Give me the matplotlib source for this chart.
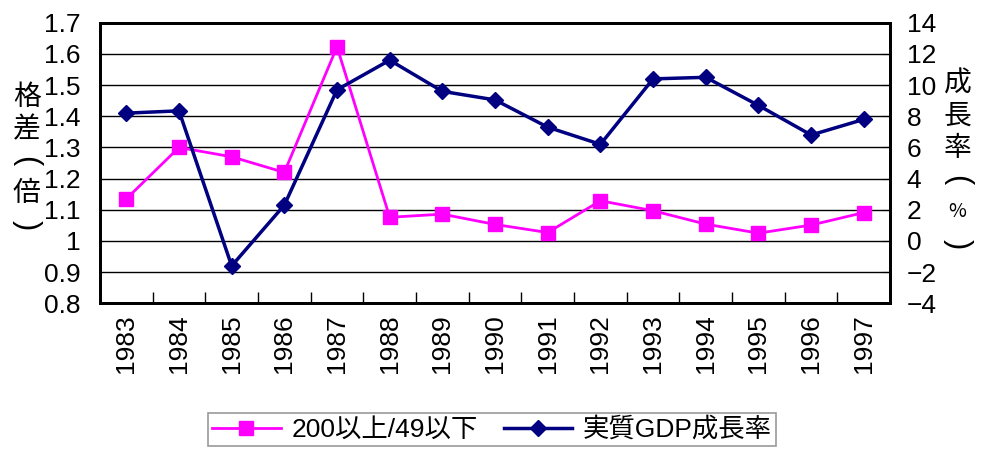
import matplotlib.pyplot as plt
from matplotlib.ticker import FixedLocator, NullFormatter

plt.rcParams['font.family'] = ['Liberation Sans', 'Noto Sans CJK JP']

years = ["1983", "1984", "1985", "1986", "1987", "1988", "1989", "1990",
         "1991", "1992", "1993", "1994", "1995", "1996", "1997"]
gap_ratio = [1.135, 1.30, 1.27, 1.22, 1.623, 1.076, 1.086, 1.053,
             1.027, 1.129, 1.097, 1.054, 1.025, 1.051, 1.091]
gdp_growth = [8.2, 8.35, -1.6, 2.3, 9.7, 11.6, 9.6, 9.05,
              7.3, 6.2, 10.4, 10.5, 8.7, 6.8, 7.8]
left_ticks = [0.8, 0.9, 1.0, 1.1, 1.2, 1.3, 1.4, 1.5, 1.6, 1.7]
left_labels = ["0.8", "0.9", "1", "1.1", "1.2", "1.3", "1.4", "1.5", "1.6", "1.7"]
right_ticks = [-4, -2, 0, 2, 4, 6, 8, 10, 12, 14]
right_labels = ["\u22124", "\u22122", "0", "2", "4", "6", "8", "10", "12", "14"]
left_title = ["格", "差", "(", "倍", ")"]
right_title = ["成", "長", "率", "(", "%", ")"]

fig = plt.figure(figsize=(9.84, 4.5), dpi=100)
ax = fig.add_axes([0.1016, 0.326, 0.803, 0.6234])
ax2 = ax.twinx()

x = list(range(len(years)))
l1, = ax.plot(x, gap_ratio, color="#FF00FF", lw=2, marker="s", ms=10,
              label="200以上/49以下")
l2, = ax2.plot(x, gdp_growth, color="#000080", lw=2.5, marker="D", ms=8,
               label="実質GDP成長率")

ax.set_xlim(-0.5, len(years) - 0.5)
ax.set_ylim(0.8, 1.7)
ax2.set_ylim(-4, 14)
ax.set_yticks(left_ticks)
ax.set_yticklabels(left_labels, fontsize=19)
ax2.set_yticks(right_ticks)
ax2.set_yticklabels(right_labels, fontsize=19)
ax.tick_params(axis="y", length=0, pad=14)
ax2.tick_params(axis="y", direction="in", length=6, pad=12)

ax.set_xticks(x)
ax.set_xticklabels(years, rotation=90, fontsize=19)
ax.tick_params(axis="x", length=0, pad=8)
ax.xaxis.set_minor_locator(FixedLocator([i + 0.5 for i in range(len(years) - 1)]))
ax.xaxis.set_minor_formatter(NullFormatter())
ax.tick_params(axis="x", which="minor", direction="in", length=8, width=1, color="black")

ax.grid(axis="y", color="black", lw=1)
ax.set_axisbelow(True)
for a in (ax, ax2):
    for s in a.spines.values():
        s.set_linewidth(2)
        s.set_color("black")

# vertical (stacked) axis titles; brackets turned to vertical form
def stacked(chars, xpos, ytop, step):
    for i, ch in enumerate(chars):
        if ch in "()":
            fig.text(xpos, ytop - i * step, ch, family="Liberation Sans",
                     fontsize=22, rotation=-90, ha="center", va="center",
                     rotation_mode="anchor")
        else:
            fs = 14 if ch == "%" else 20
            fig.text(xpos, ytop - i * step, ch, family="Noto Sans CJK JP",
                     fontsize=fs, ha="center", va="center")

stacked(left_title, 0.027, 1 - 97 / 450, 32 / 450)
stacked(right_title, 0.973, 1 - 84 / 450, 32 / 450)

leg = fig.legend(handles=[l1, l2], loc="upper center",
                 bbox_to_anchor=(0.5, 1 - 400 / 450),
                 ncol=2, fontsize=19, frameon=True, fancybox=False,
                 edgecolor="#808080", handlelength=2.6, columnspacing=1.0,
                 handletextpad=0.4, borderpad=0.15)
leg.get_frame().set_linewidth(1.2)

fig.savefig("out.png", dpi=100)
